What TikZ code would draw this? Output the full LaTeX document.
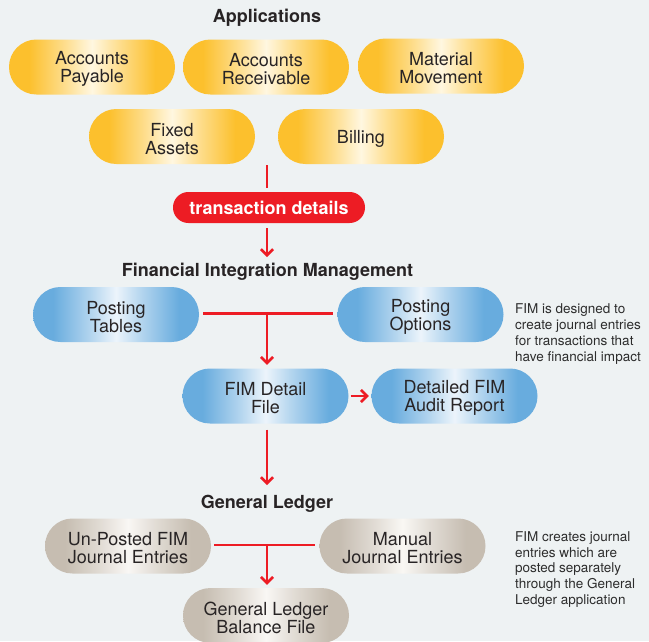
\documentclass[tikz,border=0pt]{standalone}
\usepackage{fontspec}
\setmainfont{TeX Gyre Heros}
\usetikzlibrary{arrows.meta}
\definecolor{bg}{RGB}{238,242,243}
\definecolor{gold}{RGB}{252,192,45}
\definecolor{cream}{RGB}{255,247,224}
\definecolor{bedge}{RGB}{104,172,222}
\definecolor{bcent}{RGB}{236,244,251}
\definecolor{gedge}{RGB}{198,189,177}
\definecolor{gcent}{RGB}{249,247,244}
\definecolor{fimred}{RGB}{237,28,36}
\definecolor{txt}{RGB}{40,36,37}
\definecolor{notec}{RGB}{45,45,45}
\newcommand\pillstrut{\rule{0pt}{17.5pt}}
\pgfdeclarehorizontalshading{yshade}{100bp}{color(0bp)=(gold); color(31bp)=(gold); color(42bp)=(gold!45!cream); color(50bp)=(cream); color(58bp)=(gold!45!cream); color(69bp)=(gold); color(100bp)=(gold)}
\pgfdeclarehorizontalshading{bshade}{100bp}{color(0bp)=(bedge); color(31bp)=(bedge); color(42bp)=(bedge!45!bcent); color(50bp)=(bcent); color(58bp)=(bedge!45!bcent); color(69bp)=(bedge); color(100bp)=(bedge)}
\pgfdeclarehorizontalshading{gshade}{100bp}{color(0bp)=(gedge); color(31bp)=(gedge); color(42bp)=(gedge!45!gcent); color(50bp)=(gcent); color(58bp)=(gedge!45!gcent); color(69bp)=(gedge); color(100bp)=(gedge)}
\tikzset{
  pill/.style={rectangle, rounded corners=27.4pt, minimum width=166pt, minimum height=55pt,
    inner sep=0pt, align=center, font=\fontsize{18}{18}\selectfont, text=txt},
  ypill/.style={pill, shading=yshade},
  bpill/.style={pill, shading=bshade},
  gpill/.style={pill, shading=gshade},
  ttl/.style={anchor=base, inner sep=0pt, font=\bfseries\fontsize{18}{20}\selectfont, text=txt},
  note/.style={anchor=north west, inner sep=0pt, align=left, text=notec},
  conn/.style={draw=fimred, line width=2.8pt},
  arr/.style={conn, -{Straight Barb[length=6pt,width=12pt,line width=2.6pt]}}
}
\begin{document}
\begin{tikzpicture}[x=1pt,y=-1pt]
\fill[bg] (0,0) rectangle (649,641);
\useasboundingbox (0,0) rectangle (649,641);
\begin{scope}
\clip (0,0) rectangle (649,641);
% Applications
\node[ttl] (apptitle) at (267,22.5) {Applications};
\node[ypill] (ap) at (92,67) {\pillstrut Accounts\\Payable};
\node[ypill] (ar) at (266,67) {\pillstrut Accounts\\Receivable};
\node[ypill] (mm) at (441,66) {\pillstrut Material\\Movement};
\node[ypill] (fa) at (172,136.5) {\pillstrut Fixed\\Assets};
\node[ypill] (bi) at (361,136.5) {\pillstrut Billing};
% transaction details
\node[rectangle, rounded corners=15.4pt, minimum width=192pt, minimum height=31pt, inner sep=0pt,
  fill=fimred, text=white, font=\bfseries\fontsize{18}{18}\selectfont] (td) at (269,207.5) {transaction details};
\coordinate (appbot) at (267,165);
\draw[conn] (appbot) -- (appbot |- 0,188);
\coordinate (fimin) at (267,257);
\draw[arr] (appbot |- 0,228) -- (fimin);
% FIM
\node[ttl] (fimtitle) at (267.5,276) {Financial Integration Management};
\node[bpill] (pt) at (116,314.5) {\pillstrut Posting\\Tables};
\node[bpill] (po) at (420.5,314.5) {\pillstrut Posting\\Options};
\node[bpill] (fimd) at (265.5,396) {\pillstrut FIM Detail\\File};
\node[bpill] (aud) at (454.5,396) {\pillstrut Detailed FIM\\Audit Report};
\node[note, font=\fontsize{13.5}{16}\selectfont] (note1) at (515,303.5)
  {FIM is designed to\\create journal entries\\for transactions that\\have financial impact};
\coordinate (tj) at (267,313.5);
\draw[conn] ([xshift=4pt]pt.east |- tj) -- ([xshift=-4pt]po.west |- tj);
\draw[arr] (tj) -- ([yshift=3.5pt]fimd.north -| tj);
\draw[arr] ([xshift=2pt]fimd.east) -- ([xshift=-2.5pt]aud.west);
\coordinate (glin) at (267,485);
\draw[arr] ([yshift=-6pt]fimd.south -| glin) -- (glin);
% General Ledger
\node[ttl] (gltitle) at (267,508) {General Ledger};
\node[gpill] (up) at (128,546) {\pillstrut Un-Posted FIM\\Journal Entries};
\node[gpill] (man) at (402.5,546) {\pillstrut Manual\\Journal Entries};
\node[gpill] (glb) at (266,615.5) {\pillstrut General Ledger\\Balance File};
\node[note, font=\fontsize{13.5}{15.7}\selectfont] (note2) at (515,531.5)
  {FIM creates journal\\entries which are\\posted separately\\through the General\\Ledger application};
\coordinate (gj) at (267,545);
\draw[conn] ([xshift=3pt]up.east |- gj) -- ([xshift=-4pt]man.west |- gj);
\draw[arr] (gj) -- ([yshift=3pt]glb.north -| gj);
\end{scope}
\end{tikzpicture}
\end{document}
